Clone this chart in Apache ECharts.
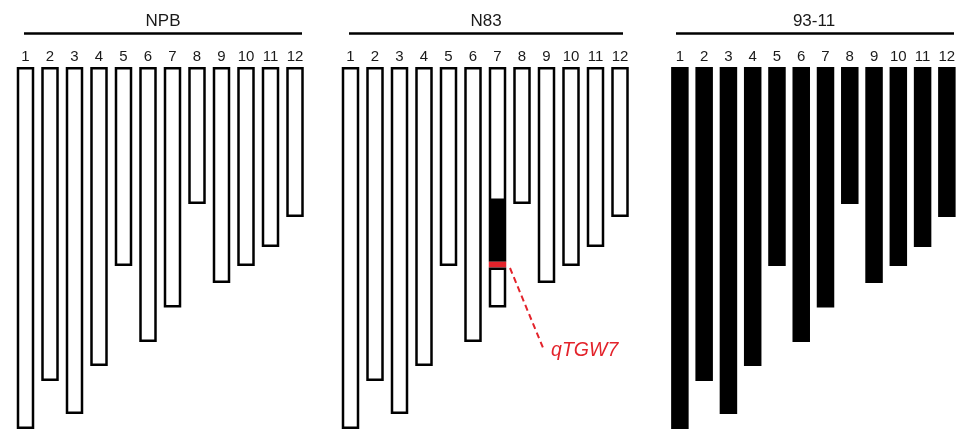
<!DOCTYPE html>
<html><head><meta charset="utf-8">
<script src="https://cdn.jsdelivr.net/npm/echarts@6/dist/echarts.min.js"></script>
<style>html,body{margin:0;padding:0;background:#fff}#c{width:959px;height:430px}</style>
</head><body><div id="c"></div>
<script>
// ---- data ----
const chromosomes = ['1','2','3','4','5','6','7','8','9','10','11','12'];
const chromLengths = [36.2, 31.4, 34.7, 29.9, 19.9, 27.5, 24.05, 13.7, 21.6, 19.9, 18.0, 15.0];
const panelNames = ['NPB', 'N83', '93-11'];
const introChrom = '7';
const introStart = 13.4;    // start of 93-11 segment on chr7 in N83
const markerStart = 19.47;  // qTGW7 band
const markerEnd = 20.05;
const qtlName = 'qTGW7';
const leaderX = [6.51, 7.86];   // leader line, panel x coords (category index units)
const leaderY = [20.1, 28.1];   // leader line, length units

// ---- layout ----
const FONT = '"Liberation Sans", Arial, Helvetica, sans-serif';
const RED = '#e3232b';
const gridLefts = [13.25, 338.25, 667.75];
const gridTop = 67, gridW = 294, gridH = 363, yMax = 36.3;
const titleX = [163, 486, 814];
const lineX = [[24, 302], [349, 623], [676, 954]];
const BW = 17.5;

const ci = chromosomes.indexOf(introChrom);
const s1 = chromLengths.map((v, i) => i === ci ? introStart : v);
const s2 = chromLengths.map((v, i) => i === ci ? markerStart - introStart : '-');
const s3 = chromLengths.map((v, i) => i === ci ? markerEnd - markerStart : '-');
const s4 = chromLengths.map((v, i) => i === ci ? v - markerEnd : '-');

const whiteStyle = {color: '#fff', borderColor: '#000', borderWidth: 2.5};
const blackStyle = {color: '#000', borderColor: '#000', borderWidth: 2.5};

const grids = gridLefts.map(l => ({left: l, top: gridTop, width: gridW, height: gridH}));
const xAxes = gridLefts.map((l, i) => ({
  type: 'category', gridIndex: i, position: 'top', data: chromosomes,
  axisLine: {show: false}, axisTick: {show: false},
  axisLabel: {fontSize: 15, color: '#1a1a1a', margin: 3, fontFamily: FONT, interval: 0}
}));
xAxes.push({type: 'value', gridIndex: 1, min: -0.5, max: 11.5, show: false});
const yAxes = gridLefts.map((l, i) => ({
  type: 'value', gridIndex: i, inverse: true, min: 0, max: yMax, show: false
}));

const graphics = [];
panelNames.forEach((n, i) => {
  graphics.push({type: 'text', x: titleX[i], y: 21,
    style: {text: n, font: '17px ' + FONT, fill: '#1a1a1a', align: 'center', verticalAlign: 'middle'}});
  graphics.push({type: 'line', shape: {x1: lineX[i][0], y1: 33.5, x2: lineX[i][1], y2: 33.5},
    style: {stroke: '#000', lineWidth: 2.5}});
});

const option = {
  animation: false,
  backgroundColor: '#fff',
  grid: grids,
  xAxis: xAxes,
  yAxis: yAxes,
  graphic: graphics,
  series: [
    {type: 'bar', xAxisIndex: 0, yAxisIndex: 0, data: chromLengths, barWidth: BW, itemStyle: whiteStyle},
    {type: 'bar', xAxisIndex: 1, yAxisIndex: 1, stack: 'n83', data: s1, barWidth: BW, itemStyle: whiteStyle},
    {type: 'bar', xAxisIndex: 1, yAxisIndex: 1, stack: 'n83', data: s2, barWidth: BW, itemStyle: blackStyle},
    {type: 'bar', xAxisIndex: 1, yAxisIndex: 1, stack: 'n83', data: s3, barWidth: BW,
      itemStyle: {color: RED, borderColor: RED, borderWidth: 2.5}},
    {type: 'bar', xAxisIndex: 1, yAxisIndex: 1, stack: 'n83', data: s4, barWidth: BW, itemStyle: whiteStyle},
    {type: 'bar', xAxisIndex: 2, yAxisIndex: 2, data: chromLengths, barWidth: BW, itemStyle: blackStyle},
    {type: 'line', xAxisIndex: 3, yAxisIndex: 1, symbol: 'none', silent: true,
      data: [[leaderX[0], leaderY[0]], [leaderX[1], leaderY[1]]],
      lineStyle: {color: RED, width: 2, type: [6, 4]},
      endLabel: {show: true, formatter: qtlName, color: RED, fontSize: 19.5, fontStyle: 'italic',
        fontFamily: FONT, distance: 8, offset: [0, 3]}}
  ]
};
echarts.init(document.getElementById('c'), null, {renderer: 'canvas'}).setOption(option);
</script>
</body></html>
